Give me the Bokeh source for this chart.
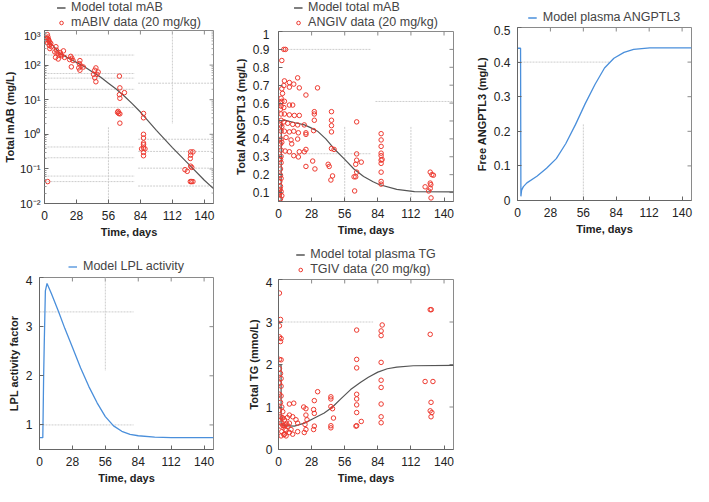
from bokeh.plotting import figure
from bokeh.models import FixedTicker, Legend, LegendItem, Range1d
from bokeh.layouts import row, column
from bokeh.embed import file_html
from bokeh.resources import INLINE

FONT = "Liberation Sans"
RED = "#ee3a30"
GREY_LINE = "#555555"
BLUE = "#4a8fdb"
ART = "#cdcdcd"
BOX = "#8a8a8a"

# ---------------- shared x axis ----------------
x_ticks = [0, 28, 56, 84, 112, 140]
x_labels = ["0", "28", "56", "84", "112", "140"]
x_min, x_max = 0, 148

# ---------------- panel 1: total mAB (log) ----------------
mab_days = [2.5, 3, 2, 3.6, 4, 4.7, 2.8, 5.5, 4.2, 6, 4.7, 1.5, 3.2,
            10, 9, 11, 12.5, 13.8, 9.7, 15, 16.6, 17.5, 12, 10.5, 14,
            23, 24, 22, 25, 23.5,
            31, 30.5, 32, 30, 31, 34,
            45, 44, 43, 46, 44, 45, 47,
            65.6, 66, 65.6, 66, 70, 64.5, 65, 66, 66, 64,
            86.7, 86.7, 86.7, 86.7, 86.7, 86.7, 85, 88, 86.7, 86.7, 86.7,
            128, 130, 128, 127.7, 128, 129, 123, 125, 127.7, 128.7, 130,
            2.8]
mab_vals = [760, 650, 570, 550, 490, 450, 440, 420, 370, 340, 300, 620, 520,
            340, 240, 222, 195, 230, 167, 187, 258, 167, 150, 270, 205,
            179, 158, 145, 135, 89,
            135, 110, 94, 83, 71, 88,
            83, 71, 54, 54, 43, 33, 63,
            48, 22, 14, 11, 16, 4.6, 4.0, 3.9, 2.1, 4.3,
            4.0, 3.0, 1.0, 0.78, 0.56, 0.4, 0.38, 0.38, 0.3, 0.24, 0.5,
            0.31, 0.31, 0.25, 0.2, 0.12, 0.11, 0.095, 0.085, 0.043, 0.043, 0.043,
            0.043]
mab_model_days = [0, 7, 14, 21, 28, 35, 42, 49, 56, 63, 70, 77, 84, 98, 112, 126, 140, 148]
mab_model_vals = [680, 380, 214, 158, 120, 89, 63, 45, 30, 20, 12.6, 7.6, 4.4, 1.3, 0.41, 0.14, 0.047, 0.027]
mab_yrange = (0.01, 1000)
mab_yticks = [0.01, 0.1, 1, 10, 100, 1000]
mab_ylabels = ["10\u207b\u00b2", "10\u207b\u00b9", "10\u2070", "10\u00b9", "10\u00b2", "10\u00b3"]
mab_minor = [m * d for d in [0.01, 0.1, 1, 10, 100] for m in range(2, 10)]
# faint stray guide segments seen in the picture
mab_art_h_y = [195, 57, 42, 20, 6.0, 0.43, 0.21, 0.062, 0.043, 30, 0.72, 0.32, 0.105, 0.032]
mab_art_h_x0 = [0, 0, 0, 0, 0, 0, 0, 0, 0, 82, 82, 82, 82, 82]
mab_art_h_x1 = [79, 79, 79, 79, 79, 79, 79, 79, 79, 148, 148, 148, 148, 148]
mab_art_v_x = [112, 56]
mab_art_v_y0 = [1000, 1.6]
mab_art_v_y1 = [2.0, 0.01]

# ---------------- panel 2: total ANGPTL3 ----------------
ang_days = [4.5, 5.9, 2.8, 5.0, 4.5, 2.8, 9.2, 9.2, 12.9, 16.2, 17.6, 2.2, 2.8, 5.0, 2.2, 4.5,
            9.2, 12, 33, 23.2, 2.2, 5.0, 9.2, 13.4, 17.6, 30.3, 30.3, 44.8, 2.2, 4.5, 7.8, 12,
            16.2, 21.8, 30.3, 44.8, 66.1, 2.2, 5.0, 9.2, 12.9, 16.8, 23.2, 29.7, 44.8, 44.8,
            2.2, 6.4, 10.6, 16.2, 23.2, 11.2, 2.2, 5.6, 9.2, 23.2, 21.8, 44.8, 47, 2.2, 12.9,
            16.8, 17.6, 28.9, 23.2, 30.8, 42, 42.9, 45.7, 44.3, 66.1, 66.1, 70, 65.3, 66.1,
            63.9, 65.3, 64.4,
            1.7, 1.4, 2.2, 0.8, 2.8, 1.7, 0.6, 1.7, 1.7, 1.7, 1.7, 1.7, 1.7, 1.7, 2.2, 2.2,
            1.1, 2.8, 2.8, 3.4,
            86.8, 86.8, 86.8, 86.8, 86.8, 87.6, 86.8, 86.8, 86.8, 86.8, 86.8,
            128.3, 129.7, 131, 128.3, 128.8, 128.3, 124, 127, 129]
ang_vals = [0.90, 0.90, 0.838, 0.724, 0.698, 0.68, 0.715, 0.689, 0.706, 0.741, 0.685, 0.627,
            0.61, 0.61, 0.583, 0.575, 0.589, 0.589, 0.685, 0.645, 0.539, 0.539, 0.534, 0.531,
            0.531, 0.552, 0.539, 0.552, 0.504, 0.495, 0.487, 0.481, 0.478, 0.478, 0.504, 0.504,
            0.495, 0.443, 0.443, 0.439, 0.443, 0.434, 0.434, 0.446, 0.474, 0.439, 0.399, 0.408,
            0.394, 0.399, 0.425, 0.372, 0.337, 0.332, 0.328, 0.341, 0.328, 0.346, 0.341, 0.302,
            0.306, 0.299, 0.328, 0.276, 0.246, 0.232, 0.258, 0.246, 0.193, 0.17, 0.316, 0.281,
            0.27, 0.258, 0.214, 0.188, 0.188, 0.109,
            0.135, 0.118, 0.105, 0.091, 0.082, 0.065, 0.1, 0.232, 0.197, 0.285, 0.372, 0.478,
            0.566, 0.6, 0.267, 0.179, 0.162, 0.381, 0.469, 0.654,
            0.429, 0.394, 0.358, 0.32, 0.306, 0.285, 0.281, 0.263, 0.214, 0.162, 0.147,
            0.214, 0.2, 0.197, 0.153, 0.144, 0.123, 0.132, 0.109, 0.07]
ang_model_days = [2.2, 2.4, 5, 14, 22, 28, 33, 40, 47, 56, 64, 72, 80, 85, 100, 115, 148]
ang_model_vals = [0.05, 0.5, 0.505, 0.49, 0.478, 0.46, 0.443, 0.40, 0.345, 0.285, 0.23, 0.19,
                  0.16, 0.145, 0.118, 0.105, 0.104]
ang_yrange = (0.05, 1.0)
ang_yticks = [0.1, 0.2, 0.3, 0.4, 0.5, 0.6, 0.7, 0.8, 0.9, 1]
ang_ylabels = ["0.1", "0.2", "0.3", "0.4", "0.5", "0.6", "0.7", "0.8", "0.9", "1"]
ang_art_h_y = [0.9, 0.317, 0.609]
ang_art_h_x0 = [5, 5, 82]
ang_art_h_x1 = [78, 78, 148]
ang_art_v_x = [56, 112]
ang_art_v_y0 = [0.467, 0.467]
ang_art_v_y1 = [0.05, 0.05]

# ---------------- panel 3: free ANGPTL3 ----------------
free_days = [0, 2.6, 2.9, 3.5, 5, 8, 16.5, 24.7, 33, 41, 49.4, 57.6, 66, 74, 82, 90.6, 98.8, 112.5, 148]
free_vals = [0.44, 0.44, 0.012, 0.03, 0.04, 0.051, 0.07, 0.093, 0.121, 0.164, 0.22, 0.28, 0.336,
             0.383, 0.411, 0.428, 0.437, 0.441, 0.441]
free_yrange = (0, 0.5)
free_yticks = [0, 0.1, 0.2, 0.3, 0.4, 0.5]
free_ylabels = ["0", "0.1", "0.2", "0.3", "0.4", "0.5"]
free_art_h_y = [0.4]
free_art_h_x0 = [0]
free_art_h_x1 = [78]
free_art_v_x = [56]
free_art_v_y0 = [0.22]
free_art_v_y1 = [0.0]

# ---------------- panel 4: LPL activity ----------------
lpl_days = [0, 2.8, 3.0, 3.5, 4.0, 5.0, 6.4, 10, 16, 21.6, 28, 35, 42, 49, 56, 63, 70, 77, 84,
            98, 112, 148]
lpl_vals = [0.74, 0.74, 1.05, 1.96, 2.6, 3.73, 3.88, 3.68, 3.32, 2.96, 2.58, 2.16, 1.78, 1.45,
            1.17, 0.98, 0.87, 0.81, 0.78, 0.75, 0.74, 0.74]
lpl_yrange = (0.5, 4.0)
lpl_yticks = [1, 2, 3, 4]
lpl_ylabels = ["1", "2", "3", "4"]
lpl_art_h_y = [3.3, 1.0]
lpl_art_h_x0 = [0, 0]
lpl_art_h_x1 = [80, 80]
lpl_art_v_x = [56]
lpl_art_v_y0 = [4.0]
lpl_art_v_y1 = [2.1]

# ---------------- panel 5: total TG ----------------
tg_days = [0.8, 1.7, 0.8, 0.8, 2.2, 1.7, 0.8, 2.2, 0.8, 1.7, 2.2, 0.8, 2.2, 0.8, 2.2, 1.7, 2.8,
           0.8, 3.6, 1.7, 3.6, 5.0, 2.2, 4.5, 1.7, 5.6, 2.8, 5.0, 2.2, 6.4,
           3.6, 4.5, 5.6, 7, 7.5, 8, 3, 6.5,
           9.2, 12.9, 9.2, 12.0, 14.8, 9.2, 16.2, 10.6, 16.2, 12.0, 9.2,
           21.3, 23.2, 23.2, 24.1, 22.4, 23.2, 21.8,
           30.3, 29.7, 30.3, 33.1, 30.3, 29.7,
           44.3, 44.3, 44.3, 45.7, 46.5, 44.3, 44.3,
           66.1, 66.1, 66.1, 66.1, 66.1, 66.1, 66.1, 66.1, 70, 65.5,
           87.7, 86.8, 86.8, 86.8, 86.8, 86.8, 86.8, 86.8, 86.8,
           128.3, 129.2, 128.3, 124, 130.6, 129, 128.3, 129.7, 129]
tg_vals = [3.68, 3.06, 2.91, 2.65, 2.61, 2.54, 2.12, 2.11, 1.9, 1.79, 1.67, 1.56, 1.49, 1.3, 1.26,
           1.11, 1.0, 0.92, 0.89, 0.77, 0.74, 0.7, 0.62, 0.56, 0.55, 0.47, 0.42, 0.36, 0.32, 0.32,
           0.57, 0.35, 0.58, 0.6, 0.75, 0.55, 0.75, 0.45,
           1.07, 1.09, 0.81, 0.77, 0.70, 0.62, 0.62, 0.47, 0.42, 0.36, 0.40,
           1.0, 0.96, 0.81, 0.7, 0.59, 0.47, 0.4,
           1.15, 0.94, 0.85, 1.36, 0.55, 0.47,
           1.24, 1.19, 1.01, 0.96, 0.74, 0.56, 0.51,
           2.81, 2.12, 1.92, 1.3, 1.19, 1.05, 0.87, 0.56, 0.66, 0.55,
           2.93, 2.79, 2.68, 2.05, 1.63, 1.46, 1.07, 0.77, 0.63,
           3.29, 3.29, 2.71, 1.6, 1.6, 1.11, 0.91, 0.87, 0.77]
tg_model_days = [0, 2.2, 2.2, 5, 13.4, 22, 30, 38.7, 45.7, 52.7, 61, 69.5, 76, 84, 92, 100, 114, 148]
tg_model_vals = [1.99, 1.99, 0.62, 0.56, 0.55, 0.62, 0.735, 0.86, 1.0, 1.19, 1.41, 1.58, 1.7,
                 1.82, 1.9, 1.94, 1.97, 1.98]
tg_yrange = (0, 4.0)
tg_yticks = [0, 1, 2, 3, 4]
tg_ylabels = ["0", "1", "2", "3", "4"]
tg_art_h_y = [3.0]
tg_art_h_x0 = [0]
tg_art_h_x1 = [80]

FIG_W, CELL_H = 231, 243


def style_axis(ax, ticks, labels, minor=None, standoff=6, size="12px"):
    ax.ticker = FixedTicker(ticks=ticks, minor_ticks=minor or [])
    ax.major_tick_in = 4
    ax.major_tick_out = 0
    ax.minor_tick_in = 2 if minor else 0
    ax.minor_tick_out = 0
    ax.axis_line_color = "#666666"
    ax.major_tick_line_color = "#666666"
    ax.minor_tick_line_color = "#999999"
    ax.major_label_text_font = FONT
    ax.major_label_text_color = "#222222"
    ax.major_label_text_font_size = size
    ax.major_label_standoff = standoff
    ax.major_label_overrides = {t: l for t, l in zip(ticks, labels)}
    ax.axis_label_text_font = FONT
    ax.axis_label_text_font_style = "bold"
    ax.axis_label_text_font_size = "11px"
    ax.axis_label_text_color = "#222222"


def box_ticks(p, yr, yticks, frame_w, frame_h, log=False, minor=None):
    """Inward tick marks on the top and right edges of the frame."""
    ytop = yr[1]
    if log:
        ydn = ytop / 10 ** ((4 / frame_h) * 5)
    else:
        ydn = ytop - (yr[1] - yr[0]) * 4 / frame_h
    p.segment(x0=x_ticks, y0=[ytop] * len(x_ticks), x1=x_ticks, y1=[ydn] * len(x_ticks),
              line_color=BOX, line_width=1)
    dx = (x_max - x_min) * 4 / frame_w
    p.segment(x0=[x_max] * len(yticks), y0=yticks, x1=[x_max - dx] * len(yticks), y1=yticks,
              line_color=BOX, line_width=1)
    if minor:
        dx2 = dx / 2
        p.segment(x0=[x_max] * len(minor), y0=minor, x1=[x_max - dx2] * len(minor), y1=minor,
                  line_color="#aaaaaa", line_width=1)


def make_fig(left, right, bottom, leg_h, yr, yticks, ylabels, ylabel, log=False, minor=None,
             ystand=6, top=2, ysize="12px", ylab_standoff=3):
    h = CELL_H - leg_h
    p = figure(width=FIG_W, height=h, x_range=Range1d(x_min, x_max), y_range=Range1d(*yr),
               y_axis_type="log" if log else "linear",
               output_backend="svg", toolbar_location=None,
               min_border_left=left, min_border_right=right,
               min_border_top=top, min_border_bottom=bottom)
    p.grid.visible = False
    p.outline_line_color = BOX
    p.border_fill_color = "white"
    style_axis(p.xaxis[0], x_ticks, x_labels, standoff=7)
    p.xaxis[0].axis_label = "Time, days"
    p.xaxis[0].axis_label_standoff = 3
    style_axis(p.yaxis[0], yticks, ylabels, minor=minor, standoff=ystand, size=ysize)
    p.yaxis[0].axis_label = ylabel
    p.yaxis[0].axis_label_standoff = ylab_standoff
    box_ticks(p, yr, yticks, FIG_W - left - right, h - top - bottom, log=log, minor=minor)
    return p


def add_art(p, hy, hx0, hx1, vx=None, vy0=None, vy1=None):
    p.segment(x0=hx0, y0=hy, x1=hx1, y1=hy, line_color=ART, line_width=1, line_dash="2 1")
    if vx:
        p.segment(x0=vx, y0=vy0, x1=vx, y1=vy1, line_color=ART, line_width=1, line_dash="2 1")


def legend_fig(left, right, leg_h, entries, loc, margin):
    """A strip above a panel that holds its legend, centred over the panel's frame."""
    lf = figure(width=FIG_W, height=leg_h, x_range=Range1d(0, 1), y_range=Range1d(0, 1),
                output_backend="svg", toolbar_location=None,
                min_border_left=left, min_border_right=right, min_border_top=0,
                min_border_bottom=0)
    lf.axis.visible = False
    lf.grid.visible = False
    lf.outline_line_color = None
    items = []
    for label, kind, color in entries:
        # key sample sits outside the strip's visible range; only its legend glyph shows
        if kind == "line":
            r = lf.line(x=[-5, -4], y=[-5, -5], line_color=color, line_width=1.3)
        else:
            r = lf.scatter(x=[-5], y=[-5], marker="circle", size=4.5, fill_color=None,
                           line_color=color, line_width=1)
        items.append(LegendItem(label=label, renderers=[r]))
    lg = Legend(items=items, location=loc, orientation="vertical",
                border_line_color=None, background_fill_alpha=0,
                label_text_font=FONT, label_text_font_size="12.5px", label_text_color="#444444",
                glyph_width=9, glyph_height=13, label_height=13, spacing=1,
                padding=0, margin=margin, label_standoff=6)
    lf.add_layout(lg)
    return lf


# panel 1
p1 = make_fig(41, 18, 40, 29, mab_yrange, mab_yticks, mab_ylabels,
              "Total mAB (mg/L)", log=True, minor=mab_minor, ystand=4, top=1,
              ysize="11.5px", ylab_standoff=1)
add_art(p1, mab_art_h_y, mab_art_h_x0, mab_art_h_x1, mab_art_v_x, mab_art_v_y0, mab_art_v_y1)
p1.line(mab_model_days, mab_model_vals, line_color=GREY_LINE, line_width=1.2)
p1.scatter(mab_days, mab_vals, marker="circle", size=4.5, fill_color=None,
           line_color=RED, line_width=1)
g1 = legend_fig(41, 18, 29, [("Model total mAB", "line", GREY_LINE),
                             ("mABIV data (20 mg/kg)", "dot", RED)], "top_center", 0)

# panel 2
p2 = make_fig(47, 9, 42, 29, ang_yrange, ang_yticks, ang_ylabels,
              "Total ANGPTL3 (mg/L)", ystand=9)
add_art(p2, ang_art_h_y, ang_art_h_x0, ang_art_h_x1, ang_art_v_x, ang_art_v_y0, ang_art_v_y1)
p2.line(ang_model_days, ang_model_vals, line_color=GREY_LINE, line_width=1.2)
p2.scatter(ang_days, ang_vals, marker="circle", size=4.5, fill_color=None,
           line_color=RED, line_width=1)
g2 = legend_fig(47, 9, 29, [("Model total mAB", "line", GREY_LINE),
                            ("ANGIV data (20 mg/kg)", "dot", RED)], "top_center", 0)

# panel 3
p3 = make_fig(55, 2, 43, 25, free_yrange, free_yticks, free_ylabels,
              "Free ANGPTL3 (mg/L)", ystand=7)
add_art(p3, free_art_h_y, free_art_h_x0, free_art_h_x1, free_art_v_x, free_art_v_y0, free_art_v_y1)
p3.line(free_days, free_vals, line_color=BLUE, line_width=1.3)
g3 = legend_fig(55, 2, 25, [("Model plasma ANGPTL3", "line", BLUE)], "bottom_center", 1)

# panel 4
p4 = make_fig(39, 18, 36, 32, lpl_yrange, lpl_yticks, lpl_ylabels,
              "LPL activity factor", ystand=7)
add_art(p4, lpl_art_h_y, lpl_art_h_x0, lpl_art_h_x1, lpl_art_v_x, lpl_art_v_y0, lpl_art_v_y1)
p4.line(lpl_days, lpl_vals, line_color=BLUE, line_width=1.3)
g4 = legend_fig(39, 18, 32, [("Model LPL activity", "line", BLUE)], "bottom_center", 2)

# panel 5
p5 = make_fig(47, 9, 36, 34, tg_yrange, tg_yticks, tg_ylabels,
              "Total TG (mmo/L)", ystand=6)
add_art(p5, tg_art_h_y, tg_art_h_x0, tg_art_h_x1)
p5.line(tg_model_days, tg_model_vals, line_color=GREY_LINE, line_width=1.2)
p5.scatter(tg_days, tg_vals, marker="circle", size=4.5, fill_color=None,
           line_color=RED, line_width=1)
g5 = legend_fig(47, 9, 34, [("Model total plasma TG", "line", GREY_LINE),
                            ("TGIV data (20 mg/kg)", "dot", RED)], "bottom_center", 1)

layout = column(row(column(g1, p1), column(g2, p2), column(g3, p3)),
                row(column(g4, p4), column(g5, p5)))
open("out.html", "w").write(file_html(layout, INLINE))
